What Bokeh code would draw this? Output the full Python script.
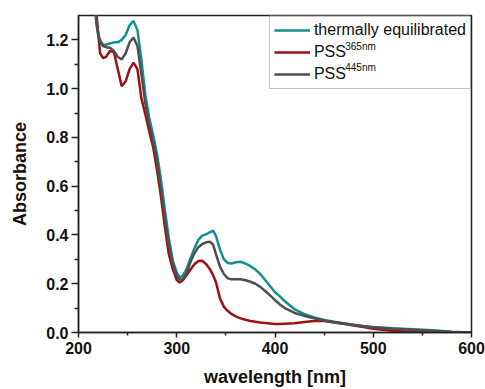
from bokeh.plotting import figure
from bokeh.models import (Range1d, Legend, LegendItem, FixedTicker,
                          CustomJSTickFormatter, ColumnDataSource)
from bokeh.core.properties import value
from bokeh.embed import file_html
from bokeh.resources import INLINE

# ---- data ----
wavelength = [215, 218, 220, 222, 225, 228, 232, 236, 240, 244, 248, 252, 256, 260, 264,
              268, 272, 276, 280, 284, 288, 292, 296, 300, 303, 306, 310, 314, 318, 322,
              326, 330, 334, 337, 340, 344, 348, 352, 356, 360, 365, 370, 375, 380, 385,
              390, 395, 400, 405, 410, 420, 430, 440, 450, 460, 470, 480, 490, 500, 520,
              540, 560, 580, 600]

thermal = [1.45, 1.27, 1.22, 1.20, 1.18, 1.18, 1.185, 1.19, 1.19, 1.20, 1.22, 1.26, 1.278, 1.24, 1.12,
           0.975, 0.88, 0.81, 0.73, 0.625, 0.50, 0.385, 0.295, 0.245, 0.227, 0.232, 0.26, 0.305, 0.345, 0.38,
           0.397, 0.403, 0.412, 0.418, 0.395, 0.34, 0.30, 0.285, 0.283, 0.288, 0.29, 0.283, 0.272, 0.258, 0.24,
           0.215, 0.19, 0.165, 0.148, 0.128, 0.095, 0.075, 0.062, 0.051, 0.044, 0.038, 0.032, 0.027, 0.023, 0.017,
           0.013, 0.009, 0.003, 0.0]

pss365 = [1.5, 1.32, 1.23, 1.145, 1.125, 1.13, 1.155, 1.15, 1.08, 1.01, 1.03, 1.08, 1.107, 1.08, 0.96,
          0.895, 0.825, 0.76, 0.665, 0.555, 0.43, 0.32, 0.26, 0.215, 0.205, 0.213, 0.235, 0.258, 0.28, 0.293,
          0.294, 0.28, 0.258, 0.235, 0.205, 0.14, 0.105, 0.088, 0.075, 0.066, 0.058, 0.052, 0.047, 0.044, 0.041,
          0.039, 0.037, 0.035, 0.035, 0.036, 0.038, 0.043, 0.047, 0.047, 0.042, 0.036, 0.029, 0.022, 0.015, 0.007,
          0.003, 0.002, 0.001, 0.0]

pss445 = [1.45, 1.29, 1.23, 1.19, 1.175, 1.17, 1.168, 1.155, 1.13, 1.12, 1.145, 1.19, 1.21, 1.175, 1.06,
          0.94, 0.855, 0.785, 0.705, 0.59, 0.47, 0.36, 0.28, 0.23, 0.217, 0.218, 0.245, 0.29, 0.325, 0.35,
          0.363, 0.37, 0.372, 0.36, 0.32, 0.27, 0.24, 0.222, 0.218, 0.218, 0.218, 0.214, 0.208, 0.20, 0.187,
          0.17, 0.152, 0.133, 0.115, 0.10, 0.08, 0.068, 0.058, 0.049, 0.041, 0.036, 0.031, 0.026, 0.021, 0.015,
          0.011, 0.007, 0.002, 0.0]

series_labels = ["thermally equilibrated", "PSS", "PSS"]
superscripts = ["365nm", "445nm"]
x_ticks = [200, 300, 400, 500, 600]
x_minor = [250, 350, 450, 550]
y_ticks = [0.0, 0.2, 0.4, 0.6, 0.8, 1.0, 1.2]
y_minor = [0.1, 0.3, 0.5, 0.7, 0.9, 1.1]

TEAL = "#138f8c"
RED = "#9b1212"
GRAY = "#4f4f4f"
FONT = "Liberation Sans"

p = figure(width=485, height=389, output_backend="svg", toolbar_location=None,
           x_range=Range1d(200, 600), y_range=Range1d(0, 1.3),
           min_border_left=78, min_border_right=14, min_border_top=15, min_border_bottom=56)

p.grid.visible = False
p.outline_line_color = "#222222"
p.outline_line_width = 1.5
p.background_fill_color = "white"
p.border_fill_color = "white"

r_t = p.line(wavelength, thermal, line_color=TEAL, line_width=2.5)
r_r = p.line(wavelength, pss365, line_color=RED, line_width=2.5)
r_g = p.line(wavelength, pss445, line_color=GRAY, line_width=2.5)

for ax in (p.xaxis[0], p.yaxis[0]):
    ax.axis_line_color = "#222222"
    ax.axis_line_width = 1.5
    ax.major_tick_line_color = "#222222"
    ax.minor_tick_line_color = "#222222"
    ax.major_tick_line_width = 1.5
    ax.minor_tick_line_width = 1.5
    ax.major_tick_in = 0
    ax.minor_tick_in = 0
    ax.major_label_text_font = FONT
    ax.major_label_text_font_style = "bold"
    ax.major_label_text_font_size = "16px"
    ax.major_label_text_color = "#111111"
    ax.axis_label_text_font = FONT
    ax.axis_label_text_font_style = "bold"
    ax.axis_label_text_font_size = "18px"
    ax.axis_label_text_color = "#111111"

p.xaxis.ticker = FixedTicker(ticks=x_ticks, minor_ticks=x_minor)
p.yaxis.ticker = FixedTicker(ticks=y_ticks, minor_ticks=y_minor)
p.yaxis.formatter = CustomJSTickFormatter(code="return tick.toFixed(1);")

p.xaxis.major_tick_out = 5
p.xaxis.minor_tick_out = 3
p.xaxis.major_label_standoff = 4
p.xaxis.axis_label = "wavelength [nm]"
p.xaxis.axis_label_standoff = 10

p.yaxis.major_tick_out = 7
p.yaxis.minor_tick_out = 4
p.yaxis.major_label_standoff = 3
p.yaxis.axis_label = "Absorbance"
p.yaxis.axis_label_standoff = 13

legend = Legend(items=[LegendItem(label=series_labels[0], renderers=[r_t]),
                       LegendItem(label=series_labels[1], renderers=[r_r]),
                       LegendItem(label=series_labels[2], renderers=[r_g])],
                location="top_right", margin=0, padding=4, spacing=2,
                glyph_width=36, glyph_height=20, label_height=20, label_standoff=4,
                label_text_font=FONT, label_text_font_size="16px", label_text_color="#111111",
                border_line_color="#888888", border_line_width=1.5,
                background_fill_alpha=0.0)
p.add_layout(legend)

# superscripts of the legend labels ("PSS^365nm", "PSS^445nm")
sup_src = ColumnDataSource(dict(x=[471.5, 471.5], y=[1.173, 1.087], text=superscripts))
p.text(x="x", y="y", text="text", source=sup_src, text_font=value(FONT),
       text_font_size="10px", text_baseline="middle", text_align="left", text_color="#111111")

open("out.html", "w").write(file_html(p, INLINE))
